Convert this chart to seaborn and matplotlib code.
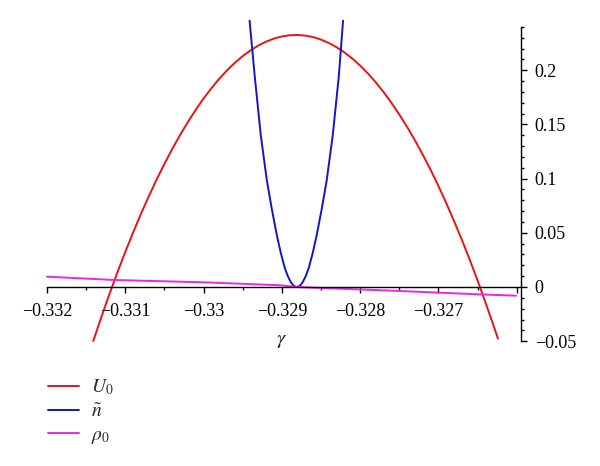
import matplotlib
matplotlib.use("Agg")
import matplotlib.pyplot as plt
import seaborn as sns
from matplotlib.ticker import FixedLocator, FixedFormatter, MultipleLocator

# values
u0_gamma = [-0.33141, -0.3313, -0.3312, -0.3311, -0.3310, -0.3309, -0.3308, -0.3307,
            -0.3306, -0.3305, -0.3304, -0.3303, -0.3302, -0.3301, -0.3300, -0.3299,
            -0.3298, -0.3297, -0.3296, -0.3295, -0.3294, -0.3293, -0.3292, -0.3291,
            -0.3290, -0.3289, -0.3288, -0.3287, -0.3286, -0.3285, -0.3284, -0.3283,
            -0.3282, -0.3281, -0.3280, -0.3279, -0.3278, -0.3277, -0.3276, -0.3275,
            -0.3274, -0.3273, -0.3272, -0.3271, -0.3270, -0.3269, -0.3268, -0.3267,
            -0.3266, -0.3265, -0.3264, -0.3263, -0.32624]
u0_vals = [-0.0499, -0.0264, -0.0060, 0.0137, 0.0324, 0.0504, 0.0675, 0.0837,
           0.0991, 0.1137, 0.1274, 0.1403, 0.1523, 0.1635, 0.1739, 0.1834,
           0.1921, 0.1999, 0.2069, 0.2130, 0.2183, 0.2228, 0.2264, 0.2292,
           0.2311, 0.2322, 0.2325, 0.2319, 0.2305, 0.2282, 0.2251, 0.2211,
           0.2163, 0.2107, 0.2042, 0.1969, 0.1887, 0.1797, 0.1698, 0.1591,
           0.1476, 0.1352, 0.1220, 0.1080, 0.0931, 0.0773, 0.0607, 0.0433,
           0.0250, 0.0059, -0.0141, -0.0349, -0.0477]

n_gamma = [-0.329417, -0.329346, -0.329270, -0.329193, -0.329129, -0.329065,
           -0.329014, -0.328963, -0.328925, -0.328887, -0.328848, -0.328810,
           -0.328772, -0.328733, -0.328695, -0.328657, -0.328606, -0.328555,
           -0.328491, -0.328427, -0.328350, -0.328274, -0.328215]
n_vals = [0.2491, 0.1937, 0.1402, 0.0987, 0.0720, 0.0480,
          0.0314, 0.0175, 0.0101, 0.0046, 0.0010, 0.0,
          0.0010, 0.0046, 0.0101, 0.0175, 0.0314, 0.0480,
          0.0720, 0.0987, 0.1402, 0.1937, 0.2491]

rho_gamma = [-0.332, -0.33115, -0.32999, -0.32902, -0.32881, -0.32749, -0.32651, -0.32601]
rho_vals = [0.0095, 0.0065, 0.0043, 0.0016, 0.0, -0.0037, -0.0067, -0.0080]

x_ticks = [-0.332, -0.331, -0.330, -0.329, -0.328, -0.327, -0.326]
x_labels = ["\u22120.332", "\u22120.331", "\u22120.33", "\u22120.329", "\u22120.328", "\u22120.327", ""]
y_ticks = [-0.05, 0, 0.05, 0.1, 0.15, 0.2]
y_labels = ["\u22120.05", "0", "0.05", "0.1", "0.15", "0.2"]

sns.set_style("white")
plt.rcParams["font.family"] = ["Liberation Serif", "DejaVu Serif"]
plt.rcParams["mathtext.fontset"] = "stix"

fig = plt.figure(figsize=(6, 4.66), dpi=100)
ax = fig.add_axes([0.075, 0.262, 0.7933, 0.6944])

lw = 1.4
sns.lineplot(x=u0_gamma, y=u0_vals, color="#ee1111", lw=lw, label=r"$U_0$", ax=ax)
sns.lineplot(x=n_gamma, y=n_vals, color="#1414cc", lw=lw, label=r"$\tilde{n}$", ax=ax)
sns.lineplot(x=rho_gamma, y=rho_vals, color="#ee22ee", lw=lw, label=r"$\rho_0$", ax=ax)

xmax = -0.325946
ax.set_xlim(-0.332026, xmax)
ax.set_ylim(-0.0525, 0.246)

for s in ["top", "left"]:
    ax.spines[s].set_visible(False)
ax.spines["bottom"].set_position(("data", 0))
ax.spines["bottom"].set_bounds(-0.332, xmax)
ax.spines["right"].set_bounds(-0.05, 0.24)
for s in ["bottom", "right"]:
    ax.spines[s].set_color("black")
    ax.spines[s].set_linewidth(1.0)

ax.xaxis.set_major_locator(FixedLocator(x_ticks))
ax.xaxis.set_major_formatter(FixedFormatter(x_labels))
ax.xaxis.set_minor_locator(MultipleLocator(0.0005))
ax.yaxis.tick_right()
ax.yaxis.set_major_locator(FixedLocator(y_ticks))
ax.yaxis.set_major_formatter(FixedFormatter(y_labels))
ax.yaxis.set_minor_locator(MultipleLocator(0.01))

ax.tick_params(axis="both", which="major", direction="out", length=4, width=1,
               color="black", labelsize=13, labelcolor="black")
ax.tick_params(axis="both", which="minor", direction="out", length=2.5, width=1, color="black")
ax.tick_params(axis="x", which="both", bottom=True, pad=7.5)
ax.tick_params(axis="y", which="both", right=True, left=False, pad=6)

ax.set_xlabel("")
ax.set_ylabel("")
ax.text(-0.329, -0.049, r"$\gamma$", fontsize=15, ha="center", va="center")

ax.legend(loc="upper left", bbox_to_anchor=(0.08, 0.19), bbox_transform=fig.transFigure,
          frameon=False, fontsize=14, handlelength=1.6, handletextpad=0.6,
          labelspacing=0.3, borderaxespad=0, borderpad=0)

fig.savefig("out.png", dpi=100)
